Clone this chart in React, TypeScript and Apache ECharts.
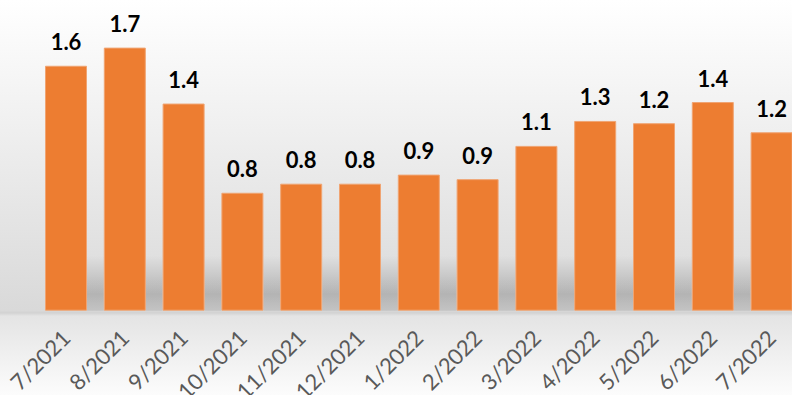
import React, { useEffect, useRef } from "react";
import * as echarts from "echarts";

const categories: string[] = [
  "7/2021", "8/2021", "9/2021", "10/2021", "11/2021", "12/2021",
  "1/2022", "2/2022", "3/2022", "4/2022", "5/2022", "6/2022", "7/2022",
];
const values: number[] = [1.62, 1.74, 1.37, 0.78, 0.84, 0.84, 0.9, 0.87, 1.09, 1.255, 1.24, 1.38, 1.18];

export default function App() {
  const ref = useRef<HTMLDivElement>(null);
  useEffect(() => {
    if (!ref.current) return;
    const chart = echarts.init(ref.current, undefined, { renderer: "svg" });
    const option: any = {
      animation: false,
      backgroundColor: {
        type: "linear", x: 0, y: 0, x2: 0, y2: 1,
        colorStops: [
          { offset: 0, color: "#ffffff" },
          { offset: 0.786, color: "#d9d9d9" },
          { offset: 0.792, color: "#d2d2d2" },
          { offset: 0.8, color: "#e4e4e4" },
          { offset: 1, color: "#fcfcfc" },
        ],
      },
      grid: {
        left: 36.6, width: 764.4, top: 8.3, height: 302.4,
        containLabel: false, outerBoundsMode: "none",
      },
      xAxis: {
        type: "category",
        data: categories,
        axisLine: { show: false },
        axisTick: { show: false },
        axisLabel: {
          rotate: 45,
          interval: 0,
          margin: 23,
          color: "#595959",
          fontFamily: "Lato",
          fontSize: 22,
        },
      },
      yAxis: {
        type: "value",
        min: 0,
        max: 2,
        show: false,
        splitLine: { show: false },
      },
      series: [
        {
          type: "custom",
          silent: true,
          z: 1,
          data: values,
          renderItem: (params: any, api: any) => {
            const i = params.dataIndex;
            const base = api.coord([i, 0]);
            const band = api.size([1, 0])[0];
            const half = band * 0.357;
            const gap = band - 2 * half;
            const h = 55;
            return {
              type: "rect",
              shape: { x: base[0] + half, y: base[1] - h, width: gap, height: h },
              style: {
                fill: new echarts.graphic.LinearGradient(0, 0, 0, 1, [
                  { offset: 0, color: "rgba(0,0,0,0)" },
                  { offset: 0.7, color: "rgba(0,0,0,0.18)" },
                  { offset: 1, color: "rgba(0,0,0,0.1)" },
                ]),
              },
            };
          },
        },
        {
          type: "bar",
          z: 2,
          data: values,
          barWidth: 42,
          itemStyle: {
            color: "#ED7D31",
            borderColor: "#F0A472",
            borderWidth: 1,
          },
          label: {
            show: true,
            position: "top",
            distance: 13,
            color: "#000000",
            fontFamily: "Lato",
            fontWeight: "bold",
            fontSize: 22,
            formatter: (p: any) => (Math.round(p.value * 10) / 10).toFixed(1),
          },
        },
      ],
    };
    chart.setOption(option);
    return () => chart.dispose();
  }, []);
  return (
    <div
      ref={ref}
      style={{ position: "fixed", left: 0, top: 0, width: 792, height: 395 }}
    />
  );
}
